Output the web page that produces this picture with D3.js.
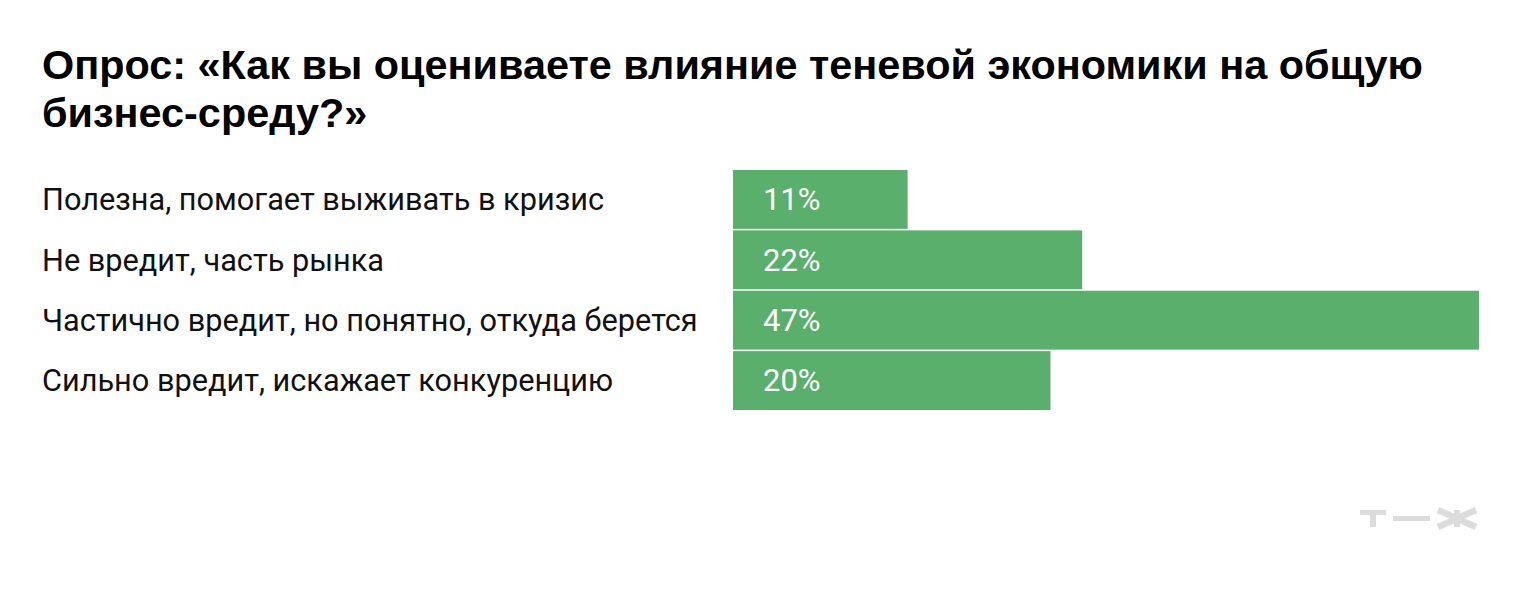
<!DOCTYPE html>
<html><head><meta charset="utf-8">
<script src="https://cdn.jsdelivr.net/npm/d3@7"></script>
<style>html,body{margin:0;padding:0;background:#fff;}</style>
</head><body>
<svg id="chart" width="1520" height="590"></svg>
<script>
const titleLines = ["Опрос: «Как вы оцениваете влияние теневой экономики на общую", "бизнес-среду?»"];
const categories = ["Полезна, помогает выживать в кризис", "Не вредит, часть рынка", "Частично вредит, но понятно, откуда берется", "Сильно вредит, искажает конкуренцию"];
const values = [11, 22, 47, 20];
const valueLabels = ["11%", "22%", "47%", "20%"];

const svg = d3.select("#chart");
const font = "Roboto, 'Liberation Sans', Arial, sans-serif";

svg.append("g").selectAll("text").data(titleLines).join("text")
  .attr("x", 42).attr("y", (d, i) => 79 + i * 48)
  .attr("font-family", "'Liberation Sans', Arial, sans-serif")
  .attr("font-weight", 700).attr("font-size", 41.4).attr("fill", "#000")
  .text(d => d);

const x = d3.scaleLinear().domain([0, d3.max(values)]).range([733, 1479]);
const y = d3.scaleBand().domain(categories).range([170, 410]).paddingInner(0.025);

svg.append("g").selectAll("rect").data(categories).join("rect")
  .attr("x", x(0)).attr("y", d => y(d))
  .attr("width", (d, i) => x(values[i]) - x(0)).attr("height", y.bandwidth())
  .attr("fill", "#5aaf6c");

svg.append("g").selectAll("text").data(categories).join("text")
  .attr("x", 42).attr("y", d => y(d) + y.bandwidth() / 2)
  .attr("dy", "0.35em")
  .attr("font-family", font).attr("font-size", 30.7).attr("fill", "#111")
  .text(d => d);

svg.append("g").selectAll("text").data(categories).join("text")
  .attr("x", 763).attr("y", d => y(d) + y.bandwidth() / 2)
  .attr("dy", "0.35em")
  .attr("font-family", font).attr("font-size", 31).attr("fill", "#fff")
  .text((d, i) => valueLabels[i]);

// logo "т—ж"
const logo = svg.append("g").attr("fill", "#dcdcdc").attr("stroke", "#dcdcdc");
logo.append("rect").attr("x", 1360).attr("y", 510).attr("width", 26).attr("height", 5).attr("stroke", "none");
logo.append("rect").attr("x", 1370).attr("y", 510).attr("width", 6).attr("height", 17).attr("stroke", "none");
logo.append("rect").attr("x", 1393).attr("y", 516).attr("width", 37).attr("height", 5).attr("stroke", "none");
logo.append("rect").attr("x", 1454).attr("y", 510).attr("width", 6).attr("height", 17).attr("stroke", "none");
logo.append("path").attr("fill", "none").attr("stroke-width", 6.5)
  .attr("d", "M1438,510 L1457,518.5 L1476,510 M1438,527 L1457,518.5 L1476,527");
</script>
</body></html>
